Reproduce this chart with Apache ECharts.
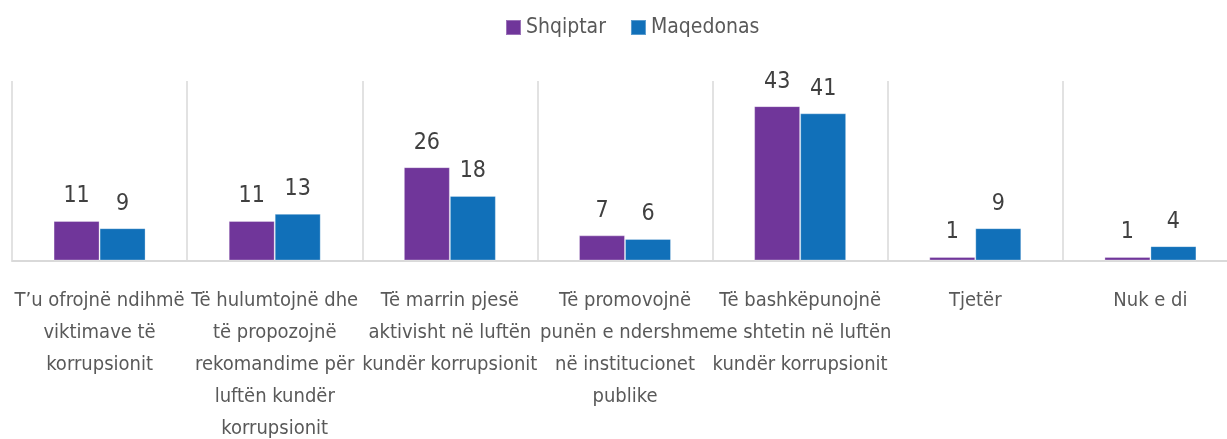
<!DOCTYPE html>
<html>
<head>
<meta charset="utf-8">
<script src="https://cdn.jsdelivr.net/npm/echarts@6/dist/echarts.min.js"></script>
<style>
  html, body { margin: 0; padding: 0; background: #ffffff; }
  #chart { width: 1227px; height: 439px; }
</style>
</head>
<body>
<div id="chart"></div>
<script>
// Survey answers: what role should civil society play against corruption (%)
const categories = [
  'T\u2019u ofrojnë ndihmë\nviktimave të\nkorrupsionit',
  'Të hulumtojnë dhe\ntë propozojnë\nrekomandime për\nluftën kundër\nkorrupsionit',
  'Të marrin pjesë\naktivisht në luftën\nkundër korrupsionit',
  'Të promovojnë\npunën e ndershme\nnë institucionet\npublike',
  'Të bashkëpunojnë\nme shtetin në luftën\nkundër korrupsionit',
  'Tjetër',
  'Nuk e di'
];
const seriesNames = ['Shqiptar', 'Maqedonas'];
const shqiptar = [11, 11, 26, 7, 43, 1, 1];
const maqedonas = [9, 13, 18, 6, 41, 9, 4];

const FONT = "'DejaVu Sans Condensed', 'Liberation Sans Narrow', 'Open Sans', sans-serif";
const PURPLE = '#70369a';
const BLUE = '#1170b9';

const chart = echarts.init(document.getElementById('chart'), null, { renderer: 'canvas' });

function barSeries(name, data, color) {
  return {
    name: name,
    type: 'bar',
    data: data,
    barWidth: 46,
    barGap: '0%',
    itemStyle: { color: color, borderColor: 'rgba(255,255,255,0.3)', borderWidth: 1 },
    label: {
      show: true,
      position: 'top',
      distance: 13,
      color: '#404040',
      fontFamily: FONT,
      fontSize: 23
    }
  };
}

chart.setOption({
  animation: false,
  backgroundColor: '#ffffff',
  legend: {
    data: seriesNames,
    left: 500,
    top: 12,
    itemWidth: 15,
    itemHeight: 15,
    itemGap: 24,
    icon: 'rect',
    textStyle: { color: '#595959', fontFamily: FONT, fontSize: 21 }
  },
  grid: { left: 12, right: -11, top: 81, bottom: 178.5, outerBoundsMode: 'none', containLabel: false },
  xAxis: {
    type: 'category',
    data: categories,
    boundaryGap: true,
    axisLine: { show: true, lineStyle: { color: '#d9d9d9', width: 2 } },
    axisTick: { show: false },
    splitLine: { show: true, interval: 0, lineStyle: { color: '#d9d9d9', width: 1.5 } },
    axisLabel: {
      interval: 0,
      margin: 24,
      color: '#595959',
      fontFamily: FONT,
      fontSize: 20,
      lineHeight: 32
    }
  },
  yAxis: {
    type: 'value',
    min: 0,
    max: 50,
    show: false,
    splitLine: { show: false }
  },
  series: [
    barSeries(seriesNames[0], shqiptar, PURPLE),
    barSeries(seriesNames[1], maqedonas, BLUE)
  ]
});
</script>
</body>
</html>
